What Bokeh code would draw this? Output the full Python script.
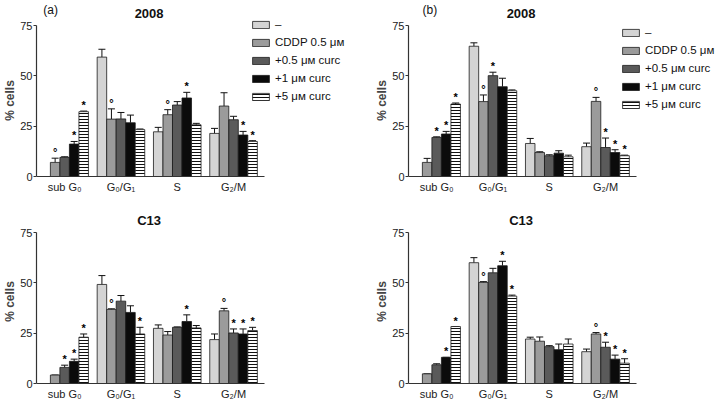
from bokeh.plotting import figure
from bokeh.models import (Range1d, FixedTicker, Whisker, TeeHead, ColumnDataSource,
                          Legend, LegendItem, Label)
from bokeh.core.properties import value
from bokeh.layouts import column, row
from bokeh.embed import file_html
from bokeh.resources import INLINE

# ---------------- data ----------------
phases = ["sub G\u2080", "G\u2080/G\u2081", "S", "G\u2082/M"]
series = ["\u2013", "CDDP 0.5 \u03bc\u1d0d", "+0.5 \u03bc\u1d0d curc",
          "+1 \u03bc\u1d0d curc", "+5 \u03bc\u1d0d curc"]
fills = ["#d4d4d4", "#9b9b9b", "#5a5a5a", "#0b0b0b", "#ffffff"]
y_ticks = [0, 25, 50, 75]

# rows = series (ctrl, CDDP, +0.5, +1, +5), columns = phases
a2008_mean = [[0, 59.3, 22.2, 21.4],
              [7.0, 28.5, 30.7, 35.0],
              [9.5, 28.6, 35.5, 28.2],
              [16.1, 26.7, 39.0, 20.6],
              [32.2, 23.3, 25.7, 17.4]]
a2008_sd = [[0, 3.9, 2.2, 2.5],
            [2.1, 5.1, 2.5, 6.6],
            [0.3, 3.2, 1.7, 1.7],
            [1.3, 3.8, 2.8, 1.8],
            [0.3, 0.3, 0.7, 0.4]]
a2008_sig = [["", "", "", ""],
             ["\u00b0", "\u00b0", "\u00b0", ""],
             ["", "", "", ""],
             ["*", "", "*", "*"],
             ["*", "", "", "*"]]

b2008_mean = [[0, 64.7, 16.4, 14.8],
              [7.0, 37.2, 11.9, 37.3],
              [19.4, 50.1, 10.3, 14.4],
              [21.1, 44.6, 11.6, 11.9],
              [36.0, 42.6, 9.8, 10.3]]
b2008_sd = [[0, 1.7, 2.5, 1.8],
            [2.0, 3.3, 0.4, 2.0],
            [0.3, 1.7, 0.5, 4.7],
            [1.3, 4.2, 1.2, 1.4],
            [0.5, 0.4, 0.8, 0.3]]
b2008_sig = [["", "", "", ""],
             ["", "\u00b0", "", "\u00b0"],
             ["*", "*", "", "*"],
             ["*", "", "", "*"],
             ["*", "", "", "*"]]

aC13_mean = [[0, 49.2, 27.4, 21.8],
             [4.2, 36.8, 24.1, 36.1],
             [8.0, 40.9, 27.9, 25.1],
             [11.0, 35.3, 30.8, 24.6],
             [23.0, 24.6, 27.6, 26.3]]
aC13_sd = [[0, 4.4, 1.7, 2.8],
           [0, 0.3, 1.7, 1.2],
           [1.1, 2.8, 0.2, 2.0],
           [1.1, 3.3, 3.3, 2.5],
           [1.6, 3.3, 1.2, 1.6]]
aC13_sig = [["", "", "", ""],
            ["", "\u00b0", "", "\u00b0"],
            ["*", "", "", "*"],
            ["*", "", "*", "*"],
            ["*", "*", "", "*"]]

bC13_mean = [[0, 60.0, 22.1, 15.8],
             [4.8, 50.2, 21.0, 24.6],
             [9.3, 55.0, 18.3, 18.0],
             [13.0, 58.5, 16.8, 12.1],
             [28.3, 43.4, 19.6, 10.1]]
bC13_sd = [[0, 2.5, 0.9, 1.3],
           [0, 0.4, 2.1, 0.7],
           [0.5, 2.2, 0.5, 2.5],
           [0, 2.2, 2.8, 2.0],
           [0, 0.5, 2.5, 2.2]]
bC13_sig = [["", "", "", ""],
            ["", "\u00b0", "", "\u00b0"],
            ["", "", "", "*"],
            ["*", "*", "", "*"],
            ["*", "*", "", "*"]]

# ---------------- layout constants ----------------
FONT = "Liberation Sans"
W = 360
PX_X = 56.3            # pixels per group
PX_Y = 151.0 / 75.0    # pixels per % unit
BW = 0.169             # bar width (group units)


def make_panel(means, sds, sigs, title, tag, tag_x, left_border, fig_h,
               zero_off, legend_xy=None):
    frame_w = W - left_border
    y_end = zero_off / PX_Y
    y_start = -(fig_h - zero_off) / PX_Y
    x_end = 0.5 + frame_w / PX_X
    p = figure(width=W, height=fig_h, x_range=Range1d(0.5, x_end),
               y_range=Range1d(y_start, y_end), output_backend="svg",
               toolbar_location=None, min_border_left=left_border,
               min_border_right=0, min_border_top=0, min_border_bottom=0)
    p.outline_line_color = None
    p.xgrid.visible = False
    p.ygrid.visible = False

    renderers = []
    for j in range(5):
        xs = [g + 1 + (j - 2) * BW for g in range(4)]
        tops = means[j]
        ups = [m + s for m, s in zip(means[j], sds[j])]
        src = ColumnDataSource(dict(x=xs, top=tops, upper=ups, sig=sigs[j]))
        kw = dict(fill_color=fills[j], line_color="#1a1a1a", line_width=0.8)
        if j == 4:
            kw.update(hatch_pattern="horizontal_line", hatch_color="#111111",
                      hatch_scale=3.0, hatch_weight=1.0)
        r = p.vbar(x="x", top="top", width=BW, bottom=0, source=src, **kw)
        renderers.append(r)
        keep = [i for i in range(4) if tops[i] > 0]
        wsrc = ColumnDataSource(dict(x=[xs[i] for i in keep],
                                     top=[tops[i] for i in keep],
                                     upper=[ups[i] for i in keep]))
        p.add_layout(Whisker(source=wsrc, base="x", upper="upper", lower="top",
                             dimension="height", line_color="#111111",
                             line_width=1,
                             upper_head=TeeHead(size=7, line_color="#111111",
                                                line_width=1),
                             lower_head=None))
        p.text(x="x", y="upper", text="sig", source=src, text_align="center",
               text_baseline="bottom", y_offset=0, text_font_size="11px",
               text_font=value(FONT), text_font_style="bold",
               text_color="#000000")

    # axes
    p.yaxis.ticker = FixedTicker(ticks=y_ticks)
    p.yaxis.bounds = (0, 75)
    p.yaxis.axis_label = "% cells"
    p.yaxis.axis_label_text_font = FONT
    p.yaxis.axis_label_text_font_style = "bold"
    p.yaxis.axis_label_text_font_size = "12px"
    p.yaxis.axis_label_standoff = 0
    p.yaxis.major_label_text_font = FONT
    p.yaxis.major_label_text_font_size = "11px"
    p.yaxis.major_label_text_color = "#222222"
    p.yaxis.major_label_standoff = 1
    p.yaxis.major_tick_out = 3
    p.yaxis.major_tick_in = 0
    p.yaxis.minor_tick_out = 0
    p.yaxis.minor_tick_in = 0

    p.xaxis.fixed_location = 0
    p.xaxis.ticker = FixedTicker(ticks=[1, 2, 3, 4])
    p.xaxis.major_label_overrides = {i + 1: phases[i] for i in range(4)}
    p.xaxis.bounds = (0.5, 4.55)
    p.xaxis.major_tick_out = 0
    p.xaxis.major_tick_in = 0
    p.xaxis.minor_tick_out = 0
    p.xaxis.minor_tick_in = 0
    p.xaxis.major_label_standoff = 4
    p.xaxis.major_label_text_font = FONT
    p.xaxis.major_label_text_font_size = "11px"
    p.xaxis.major_label_text_color = "#222222"
    for ax in (p.xaxis, p.yaxis):
        ax.axis_line_color = "#333333"
        ax.axis_line_width = 1.2
        ax.major_tick_line_color = "#333333"

    p.add_layout(Label(x=2.5, y=81, text=title, text_align="center",
                       text_baseline="middle", text_font=FONT,
                       text_font_style="bold", text_font_size="13px",
                       text_color="#111111"))
    if tag:
        p.add_layout(Label(x=tag_x, y=y_end - 2 / PX_Y, text=tag,
                           text_align="left", text_baseline="top",
                           text_font=FONT, text_font_size="12px",
                           text_color="#111111"))

    if legend_xy is not None:
        items = [LegendItem(label=series[j], renderers=[renderers[j]])
                 for j in range(5)]
        leg = Legend(items=items, location=legend_xy, padding=0, margin=0,
                     spacing=6, glyph_width=21, glyph_height=9,
                     label_height=12, label_standoff=4,
                     label_text_font=FONT, label_text_font_size="11.5px",
                     label_text_color="#111111",
                     border_line_color=None, background_fill_alpha=0)
        p.add_layout(leg)
    return p


p1 = make_panel(a2008_mean, a2008_sd, a2008_sig, "2008", "(a)", 0.62, 36, 200, 176,
                legend_xy=(214, 98))
p2 = make_panel(b2008_mean, b2008_sd, b2008_sig, "2008", "(b)", 0.75, 48, 200, 176,
                legend_xy=(212, 90))
p3 = make_panel(aC13_mean, aC13_sd, aC13_sig, "C13", None, 0, 36, 202, 183)
p4 = make_panel(bC13_mean, bC13_sd, bC13_sig, "C13", None, 0, 48, 202, 183)

layout = column(row(p1, p2), row(p3, p4))
open("out.html", "w").write(file_html(layout, INLINE))
